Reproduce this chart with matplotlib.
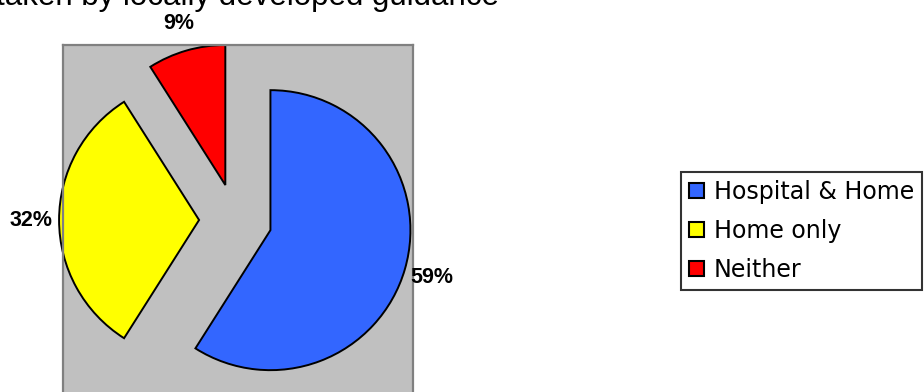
import matplotlib.pyplot as plt

# data
labels = ['Hospital & Home', 'Home only', 'Neither']
values = [59, 32, 9]
colors = ['#3366FF', '#FFFF00', '#FF0000']
explode = [0.26, 0.26, 0.26]
title = 'taken by locally developed guidance'

plt.rcParams['font.family'] = ['Liberation Sans', 'DejaVu Sans']

fig = plt.figure(figsize=(9.24, 3.92), dpi=100)

# plot area (gray box), extends a bit past the bottom edge
ax = fig.add_axes([63 / 924, -3 / 392, 350 / 924, 350 / 392])

wedges, texts, autotexts = ax.pie(
    values, colors=colors, explode=explode, startangle=90, counterclock=False,
    autopct='%.0f%%', pctdistance=1.2,
    wedgeprops=dict(edgecolor='black', linewidth=1.4))
for t in autotexts:
    t.set_fontsize(15.5)
    t.set_fontweight('bold')
    t.set_color('black')
    t.set_clip_on(False)

ax.set_frame_on(True)
ax.set_facecolor('#C0C0C0')
ax.patch.set_visible(True)
ax.set_aspect('equal')
ax.set_xlim(-1.25 + 0.018, 1.25 + 0.018)
ax.set_ylim(-1.25, 1.25)
ax.set_xticks([])
ax.set_yticks([])
for s in ax.spines.values():
    s.set_visible(True)
    s.set_color('#808080')
    s.set_linewidth(1.6)

fig.text(248 / 924, 1 - 5 / 392, title, ha='center', va='baseline', fontsize=22.5)

leg = fig.legend(wedges, labels, loc='upper left',
                 bbox_to_anchor=(681 / 924, 1 - 172 / 392),
                 prop=dict(family='DejaVu Sans', size=17.1),
                 frameon=True, fancybox=False, shadow=False,
                 handlelength=0.6, handleheight=0.6, handletextpad=0.42,
                 labelspacing=0.62, borderpad=0.35, borderaxespad=0)
leg.get_frame().set_edgecolor('black')
leg.get_frame().set_linewidth(1.5)
for h in leg.legend_handles:
    h.set_edgecolor('black')
    h.set_linewidth(1.5)

fig.savefig('out.png', dpi=100)
